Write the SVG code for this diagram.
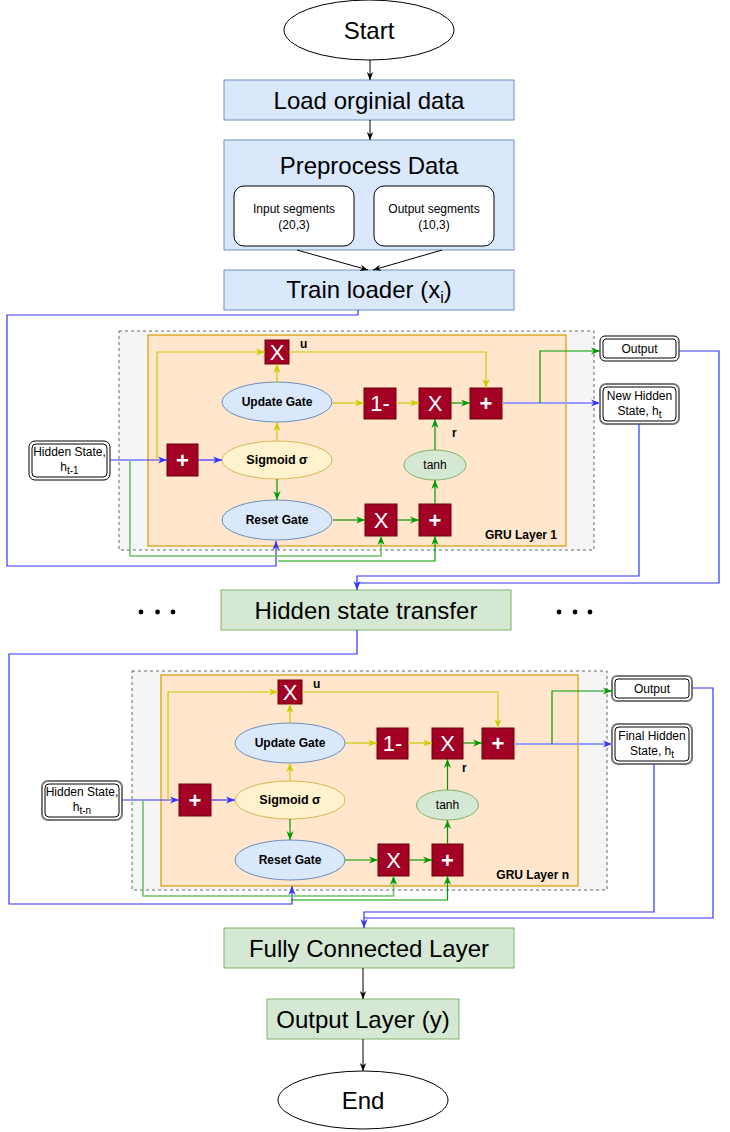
<svg xmlns="http://www.w3.org/2000/svg" width="730" height="1132" viewBox="0 0 730 1132">
<defs>
<marker id="aK" viewBox="0 0 10 10" refX="10" refY="5" markerWidth="8" markerHeight="8" markerUnits="userSpaceOnUse" orient="auto"><path d="M0,1 L10,5 L0,9 L3,5 z" fill="#000"/></marker>
<marker id="aB" viewBox="0 0 10 10" refX="10" refY="5" markerWidth="9" markerHeight="9" markerUnits="userSpaceOnUse" orient="auto"><path d="M0,1 L10,5 L0,9 L3,5 z" fill="#3333ff"/></marker>
<marker id="aY" viewBox="0 0 10 10" refX="10" refY="5" markerWidth="9" markerHeight="9" markerUnits="userSpaceOnUse" orient="auto"><path d="M0,1 L10,5 L0,9 L3,5 z" fill="#cccc00"/></marker>
<marker id="aG" viewBox="0 0 10 10" refX="10" refY="5" markerWidth="9" markerHeight="9" markerUnits="userSpaceOnUse" orient="auto"><path d="M0,1 L10,5 L0,9 L3,5 z" fill="#009900"/></marker>
</defs>
<style>
text{font-family:"Liberation Sans",Arial,sans-serif;fill:#000}
.blue{fill:#dae8fc;stroke:#6c8ebf;stroke-width:1}
.green{fill:#d5e8d4;stroke:#82b366;stroke-width:1}
.term{fill:#fff;stroke:#000;stroke-width:1}
.inner{fill:#fff;stroke:#000;stroke-width:1}
.dash{fill:#f5f5f5;stroke:#666;stroke-width:1;stroke-dasharray:3,3}
.orange{fill:#ffe6cc;stroke:#d79b00;stroke-width:1.2}
.op{fill:#a20025;stroke:#6f0000;stroke-width:1}
.opt{fill:#fff;font-size:22px;text-anchor:middle}
.gate{fill:#dae8fc;stroke:#6c8ebf;stroke-width:1}
.sig{fill:#fff2cc;stroke:#d6b656;stroke-width:1}
.tanh{fill:#d5e8d4;stroke:#82b366;stroke-width:1}
.gl{font-size:12px;font-weight:bold;text-anchor:middle}
.sm{font-size:12px;text-anchor:middle}
.big{font-size:24px;text-anchor:middle}
.dbo{fill:#fff;stroke:#000;stroke-width:1}
.dbg{fill:#fff;stroke:#777;stroke-width:2}
.dbi{fill:none;stroke:#000;stroke-width:1}
.lab{font-size:12px;font-weight:bold}
.k{fill:none;stroke:#000;stroke-width:1;marker-end:url(#aK)}
.b{fill:none;stroke:#3333ff;stroke-width:1.2}
.bl{fill:none;stroke:#9999ff;stroke-width:2}
.y{fill:none;stroke:#cccc00;stroke-width:1.2}
.g{fill:none;stroke:#009900;stroke-width:1.2}
.gl2{fill:none;stroke:#6cc06c;stroke-width:1.6}
</style>

<g id="start"><ellipse class="term" cx="369" cy="30" rx="85" ry="30"/><text class="big" x="369" y="38.5">Start</text></g>
<g id="load"><rect class="blue" x="224" y="80" width="290" height="40"/><text class="big" x="369" y="108.5">Load orginial data</text></g>
<g id="preprocess"><rect class="blue" x="224" y="140" width="290" height="110"/><text class="big" x="369" y="174">Preprocess Data</text></g>
<g id="input-seg"><rect class="inner" x="234" y="186" width="120" height="60" rx="10"/><text class="sm" x="294" y="213">Input segments</text><text class="sm" x="294" y="229">(20,3)</text></g>
<g id="output-seg"><rect class="inner" x="374" y="186" width="120" height="60" rx="10"/><text class="sm" x="434" y="213">Output segments</text><text class="sm" x="434" y="229">(10,3)</text></g>
<g id="trainloader"><rect class="blue" x="224" y="270" width="290" height="40"/><text class="big" x="369" y="298">Train loader (x<tspan font-size="16" dy="5">i</tspan><tspan dy="-5">)</tspan></text></g>

<!-- GRU layer 1 -->
<g id="gru1-container"><rect class="dash" x="119" y="331" width="475" height="219"/><rect class="orange" x="148" y="335" width="418" height="211"/><text class="lab" x="557" y="539" text-anchor="end">GRU Layer 1</text></g>
<g id="hs1"><rect class="dbo" x="29" y="441" width="81" height="39" rx="6"/><rect class="dbi" x="32" y="444" width="75" height="33" rx="4"/><text class="sm" x="69.5" y="456">Hidden State,</text><text class="sm" x="69.5" y="471">h<tspan font-size="10" dy="3">t-1</tspan></text></g>
<g id="plus1a"><rect class="op" x="167" y="444" width="31" height="32"/><text class="opt" x="182.5" y="468" font-weight="bold">+</text></g>
<g id="sig1"><ellipse class="sig" cx="277" cy="460" rx="55" ry="19"/><text class="gl" x="277" y="464" style="font-size:12.5px">Sigmoid σ</text></g>
<g id="upd1"><ellipse class="gate" cx="277" cy="402" rx="55" ry="20"/><text class="gl" x="277" y="406">Update Gate</text></g>
<g id="rst1"><ellipse class="gate" cx="277" cy="520" rx="55" ry="20"/><text class="gl" x="277" y="524">Reset Gate</text></g>
<g id="xu1"><rect class="op" x="265" y="340" width="24" height="24"/><text class="opt" x="277" y="360">X</text><text class="lab" x="300" y="348">u</text></g>
<g id="om1"><rect class="op" x="364" y="388" width="32" height="31"/><text class="opt" x="380" y="411">1-</text></g>
<g id="xm1"><rect class="op" x="419" y="388" width="32" height="31"/><text class="opt" x="435" y="411">X</text><text class="lab" x="452" y="437">r</text></g>
<g id="pm1"><rect class="op" x="470" y="388" width="32" height="31"/><text class="opt" x="486" y="411" font-weight="bold">+</text></g>
<g id="tanh1"><ellipse class="tanh" cx="435" cy="465" rx="31" ry="15"/><text class="sm" x="435" y="469">tanh</text></g>
<g id="xb1"><rect class="op" x="365" y="504" width="32" height="32"/><text class="opt" x="381" y="528">X</text></g>
<g id="pb1"><rect class="op" x="419" y="504" width="32" height="32"/><text class="opt" x="435" y="528" font-weight="bold">+</text></g>
<g id="out1"><rect class="dbo" x="600" y="336" width="79" height="25" rx="5"/><rect class="dbi" x="603" y="339" width="73" height="19" rx="3"/><text class="sm" x="639.5" y="352.5">Output</text></g>
<g id="nhs1"><rect class="dbg" x="600" y="384" width="79" height="40" rx="6"/><rect class="dbi" x="603" y="387" width="73" height="34" rx="4"/><text class="sm" x="639.5" y="400">New Hidden</text><text class="sm" x="639.5" y="415">State, h<tspan font-size="10" dy="3">t</tspan></text></g>

<g id="transfer"><rect class="green" x="221" y="590" width="290" height="40"/><text class="big" x="366" y="618.5">Hidden state transfer</text></g>
<g id="dots-left"><circle cx="141" cy="612" r="2.4"/><circle cx="157.5" cy="612" r="2.4"/><circle cx="173" cy="612" r="2.4"/></g>
<g id="dots-right"><circle cx="559" cy="612" r="2.4"/><circle cx="575" cy="612" r="2.4"/><circle cx="590" cy="612" r="2.4"/></g>

<!-- GRU layer n -->
<g id="grun-container"><rect class="dash" x="132" y="671" width="475" height="219"/><rect class="orange" x="161" y="675" width="417" height="211"/><text class="lab" x="569" y="879" text-anchor="end">GRU Layer n</text></g>
<g id="hsn"><rect class="dbg" x="42" y="781" width="80" height="39" rx="6"/><rect class="dbi" x="45" y="784" width="74" height="33" rx="4"/><text class="sm" x="82" y="796">Hidden State,</text><text class="sm" x="82" y="811">h<tspan font-size="10" dy="3">t-n</tspan></text></g>
<g id="plusna"><rect class="op" x="179" y="784" width="32" height="32"/><text class="opt" x="195" y="808" font-weight="bold">+</text></g>
<g id="sign"><ellipse class="sig" cx="290" cy="800" rx="55" ry="19"/><text class="gl" x="290" y="804" style="font-size:12.5px">Sigmoid σ</text></g>
<g id="updn"><ellipse class="gate" cx="290" cy="743" rx="55" ry="20"/><text class="gl" x="290" y="747">Update Gate</text></g>
<g id="rstn"><ellipse class="gate" cx="290" cy="860" rx="55" ry="20"/><text class="gl" x="290" y="864">Reset Gate</text></g>
<g id="xun"><rect class="op" x="278" y="680" width="24" height="24"/><text class="opt" x="290" y="700">X</text><text class="lab" x="313" y="688">u</text></g>
<g id="omn"><rect class="op" x="377" y="728" width="31" height="31"/><text class="opt" x="392.5" y="751">1-</text></g>
<g id="xmn"><rect class="op" x="432" y="728" width="31" height="31"/><text class="opt" x="447.5" y="751">X</text><text class="lab" x="462" y="772">r</text></g>
<g id="pmn"><rect class="op" x="482" y="728" width="32" height="31"/><text class="opt" x="498" y="751" font-weight="bold">+</text></g>
<g id="tanhn"><ellipse class="tanh" cx="447.5" cy="805" rx="31" ry="15"/><text class="sm" x="447.5" y="809">tanh</text></g>
<g id="xbn"><rect class="op" x="378" y="844" width="31" height="32"/><text class="opt" x="393.5" y="868">X</text></g>
<g id="pbn"><rect class="op" x="432" y="844" width="31" height="32"/><text class="opt" x="447.5" y="868" font-weight="bold">+</text></g>
<g id="outn"><rect class="dbg" x="612" y="676" width="80" height="25" rx="5"/><rect class="dbi" x="615" y="679" width="74" height="19" rx="3"/><text class="sm" x="652" y="692.5">Output</text></g>
<g id="fhs"><rect class="dbg" x="612" y="724" width="80" height="40" rx="6"/><rect class="dbi" x="615" y="727" width="74" height="34" rx="4"/><text class="sm" x="652" y="740">Final Hidden</text><text class="sm" x="652" y="755">State, h<tspan font-size="10" dy="3">t</tspan></text></g>

<g id="fc"><rect class="green" x="224" y="928" width="290" height="40"/><text class="big" x="369" y="956.5">Fully Connected Layer</text></g>
<g id="outlayer"><rect class="green" x="267" y="999" width="192" height="40"/><text class="big" x="363" y="1027.5">Output Layer (y)</text></g>
<g id="end"><ellipse class="term" cx="363" cy="1100" rx="85" ry="29"/><text class="big" x="363" y="1108.5">End</text></g>

<g id="connectors">
<path class="k" d="M370,60 V80"/>
<path class="k" d="M370,120 V140"/>
<path class="k" d="M297,250 L368,270"/>
<path class="k" d="M442,250 L373,270"/>
<!-- layer 1 -->
<path class="b" d="M358,310 V315 H7 V566 H276 V541" marker-end="url(#aB)"/>
<path class="b" d="M110,460 H167" marker-end="url(#aB)"/>
<path class="b" d="M198,460 H222" marker-end="url(#aB)"/>
<path class="y" d="M157,460 V352 H265" marker-end="url(#aY)"/>
<path class="y" d="M277,441 V422" marker-end="url(#aY)"/>
<path class="y" d="M277,383 V364" marker-end="url(#aY)"/>
<path class="g" d="M277,479 V500" marker-end="url(#aG)"/>
<path class="y" d="M333,403 H364" marker-end="url(#aY)"/>
<path class="y" d="M396,403 H419" marker-end="url(#aY)"/>
<path class="g" d="M451,403 H470" marker-end="url(#aG)"/>
<path class="y" d="M289,352 H486 V388" marker-end="url(#aY)"/>
<path class="g" d="M435,450 V419" marker-end="url(#aG)"/>
<path class="g" d="M333,520 H365" marker-end="url(#aG)"/>
<path class="g" d="M397,520 H419" marker-end="url(#aG)"/>
<path class="g" d="M435,504 V480" marker-end="url(#aG)"/>
<path class="gl2" d="M130,460 V556 H381 V536" marker-end="url(#aG)"/>
<path class="g" d="M278,561 H435 V536" marker-end="url(#aG)"/>
<path class="bl" d="M502,403 H600" marker-end="url(#aB)"/>
<path class="g" d="M540,403 V351 H600" marker-end="url(#aG)"/>
<path class="b" d="M639,424 V576 H357 V590" marker-end="url(#aB)"/>
<path class="b" d="M679,351 H719 V583 H357"/>
<!-- layer n -->
<path class="b" d="M357,630 V654 H9 V904 H292 V886" marker-end="url(#aB)"/>
<path class="b" d="M122,800 H179" marker-end="url(#aB)"/>
<path class="b" d="M211,800 H235" marker-end="url(#aB)"/>
<path class="y" d="M168,800 V692 H278" marker-end="url(#aY)"/>
<path class="y" d="M290,781 V763" marker-end="url(#aY)"/>
<path class="y" d="M290,723 V704" marker-end="url(#aY)"/>
<path class="g" d="M290,819 V840" marker-end="url(#aG)"/>
<path class="y" d="M345,743 H377" marker-end="url(#aY)"/>
<path class="y" d="M408,743 H432" marker-end="url(#aY)"/>
<path class="g" d="M463,743 H482" marker-end="url(#aG)"/>
<path class="y" d="M302,692 H498 V728" marker-end="url(#aY)"/>
<path class="g" d="M447.5,790 V759" marker-end="url(#aG)"/>
<path class="g" d="M345,860 H378" marker-end="url(#aG)"/>
<path class="g" d="M409,860 H432" marker-end="url(#aG)"/>
<path class="g" d="M447.5,844 V820" marker-end="url(#aG)"/>
<path class="gl2" d="M143,800 V896 H393.5 V876" marker-end="url(#aG)"/>
<path class="g" d="M291,900 H447.5 V876" marker-end="url(#aG)"/>
<path class="bl" d="M514,744 H612" marker-end="url(#aB)"/>
<path class="g" d="M552,744 V691 H612" marker-end="url(#aG)"/>
<path class="b" d="M654,764 V912 H364 V928" marker-end="url(#aB)"/>
<path class="b" d="M692,688 H713 V918 H364"/>
<!-- bottom -->
<path class="k" d="M363,968 V999"/>
<path class="k" d="M363,1039 V1071"/>
</g>
</svg>
